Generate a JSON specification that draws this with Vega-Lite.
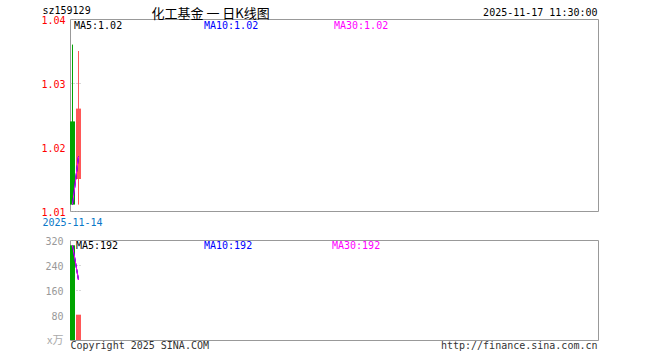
{
  "$schema": "https://vega.github.io/schema/vega-lite/v6.json",
  "background": "white",
  "padding": {"left": 40, "top": 4, "right": 2, "bottom": 2},
  "autosize": {"type": "pad"},
  "config": {
    "font": "DejaVu Sans Mono",
    "view": {"stroke": "#999999", "strokeWidth": 1},
    "axis": {
      "labelFont": "DejaVu Sans Mono",
      "labelFontSize": 10,
      "titleFont": "DejaVu Sans Mono",
      "titleFontSize": 10,
      "titleFontWeight": "normal",
      "ticks": false,
      "tickSize": 0,
      "domain": false,
      "gridColor": "#b0b0b0",
      "gridDash": [1, 2]
    }
  },
  "datasets": {
    "k": [
      {"date": "2025-11-14", "open": 1.024, "close": 1.011, "high": 1.036, "low": 1.011, "vol": 303},
      {"date": "2025-11-17", "open": 1.015, "close": 1.026, "high": 1.035, "low": 1.011, "vol": 81}
    ],
    "ma": [
      {"date": "2025-11-14", "ma": "MA5:1.02", "value": 1.011},
      {"date": "2025-11-17", "ma": "MA5:1.02", "value": 1.0185},
      {"date": "2025-11-14", "ma": "MA10:1.02", "value": 1.011},
      {"date": "2025-11-17", "ma": "MA10:1.02", "value": 1.0185},
      {"date": "2025-11-14", "ma": "MA30:1.02", "value": 1.011},
      {"date": "2025-11-17", "ma": "MA30:1.02", "value": 1.0185}
    ],
    "vma": [
      {"date": "2025-11-14", "ma": "MA5:192", "value": 303},
      {"date": "2025-11-17", "ma": "MA5:192", "value": 192},
      {"date": "2025-11-14", "ma": "MA10:192", "value": 303},
      {"date": "2025-11-17", "ma": "MA10:192", "value": 192},
      {"date": "2025-11-14", "ma": "MA30:192", "value": 303},
      {"date": "2025-11-17", "ma": "MA30:192", "value": 192}
    ]
  },
  "spacing": 29,
  "bounds": "flush",
  "resolve": {"scale": {"color": "independent"}, "legend": {"color": "independent"}},
  "vconcat": [
    {
      "width": 528,
      "height": 192,
      "encoding": {
        "x": {
          "field": "date",
          "type": "ordinal",
          "scale": {"type": "band", "range": [0, 11], "paddingInner": 0.1667, "paddingOuter": 0},
          "axis": {
            "values": ["2025-11-14"],
            "bandPosition": 0,
            "labelAngle": 0,
            "labelColor": "#0a78c8",
            "labelPadding": 6,
            "grid": false,
            "title": "化工基金 一 日K线图",
            "titleFont": "Noto Sans CJK SC",
            "titleFontSize": 13,
            "titleAngle": 0,
            "titleAlign": "left",
            "titleBaseline": "alphabetic",
            "titleX": 81,
            "titleY": -194,
            "titleColor": "#000000"
          }
        }
      },
      "layer": [
        {
          "data": {"name": "k"},
          "mark": {"type": "rule", "strokeWidth": 1},
          "encoding": {
            "y": {
              "field": "low",
              "type": "quantitative",
              "scale": {"domain": [1.01, 1.04], "zero": false, "nice": false},
              "axis": {
                "values": [1.01, 1.02, 1.03, 1.04],
                "format": ".2f",
                "labelColor": "#ff0000",
                "labelPadding": 5,
                "labelOffset": 1,
                "grid": true,
                "title": "sz159129",
                "titleAngle": 0,
                "titleAlign": "left",
                "titleBaseline": "alphabetic",
                "titleX": -28,
                "titleY": -6,
                "titleColor": "#000000"
              }
            },
            "y2": {"field": "high"},
            "color": {"condition": {"test": "datum.close >= datum.open", "value": "#ff5757"}, "value": "#00a400"}
          }
        },
        {
          "data": {"name": "k"},
          "mark": {"type": "bar"},
          "encoding": {
            "y": {"field": "open", "type": "quantitative", "scale": {"domain": [1.01, 1.04], "zero": false, "nice": false}, "axis": null},
            "y2": {"field": "close"},
            "color": {"condition": {"test": "datum.close >= datum.open", "value": "#ff5757"}, "value": "#00a400"}
          }
        },
        {
          "data": {"name": "ma"},
          "mark": {"type": "line", "strokeWidth": 1},
          "encoding": {
            "y": {
              "field": "value",
              "type": "quantitative",
              "scale": {"domain": [1.01, 1.04], "zero": false, "nice": false},
              "axis": {
                "orient": "right",
                "labels": false,
                "grid": false,
                "title": "2025-11-17 11:30:00",
                "titleAngle": 0,
                "titleAlign": "right",
                "titleBaseline": "alphabetic",
                "titleX": -1,
                "titleY": -4,
                "titleColor": "#000000"
              }
            },
            "color": {
              "field": "ma",
              "type": "nominal",
              "scale": {"domain": ["MA5:1.02", "MA10:1.02", "MA30:1.02"], "range": ["#000000", "#0000ff", "#ff00ff"]},
              "legend": {
                "title": null,
                "orient": "none",
                "legendX": -6,
                "legendY": 2,
                "direction": "horizontal",
                "columns": 3,
                "gridAlign": "all",
                "columnPadding": 65,
                "padding": 0,
                "symbolSize": 0,
                "symbolOpacity": 0,
                "symbolStrokeWidth": 0,
                "labelOffset": 0,
                "labelFont": "DejaVu Sans Mono",
                "labelFontSize": 10,
                "encode": {"labels": {"update": {"fill": {"signal": "datum.index == 0 ? '#000000' : datum.index == 1 ? '#0000ff' : '#ff00ff'"}}}}
              }
            }
          }
        }
      ],
      "resolve": {"axis": {"y": "independent"}}
    },
    {
      "width": 528,
      "height": 100,
      "encoding": {
        "x": {
          "field": "date",
          "type": "ordinal",
          "scale": {"type": "band", "range": [0, 11], "paddingInner": 0.1667, "paddingOuter": 0},
          "axis": {
            "labels": false,
            "grid": false,
            "title": "Copyright 2025 SINA.COM",
            "titleAngle": 0,
            "titleAlign": "left",
            "titleBaseline": "middle",
            "titleX": 0,
            "titleY": 5,
            "titleColor": "#333333"
          }
        }
      },
      "layer": [
        {
          "data": {"name": "k"},
          "mark": {"type": "bar"},
          "encoding": {
            "y": {
              "field": "vol",
              "type": "quantitative",
              "scale": {"domain": [0, 320], "nice": false},
              "axis": {
                "values": [80, 160, 240, 320],
                "labelColor": "#999999",
                "labelPadding": 7,
                "labelOffset": 1,
                "grid": true,
                "title": "x万",
                "titleFont": "Noto Sans CJK SC",
                "titleFontSize": 11,
                "titleAngle": 0,
                "titleAlign": "right",
                "titleBaseline": "middle",
                "titleX": -7,
                "titleY": 100,
                "titleColor": "#aaaaaa"
              }
            },
            "color": {"condition": {"test": "datum.close >= datum.open", "value": "#ff5757"}, "value": "#00a400"}
          }
        },
        {
          "data": {"name": "vma"},
          "mark": {"type": "line", "strokeWidth": 1},
          "encoding": {
            "y": {
              "field": "value",
              "type": "quantitative",
              "scale": {"domain": [0, 320], "nice": false},
              "axis": {
                "orient": "right",
                "labels": false,
                "grid": false,
                "title": "http://finance.sina.com.cn",
                "titleAngle": 0,
                "titleAlign": "right",
                "titleBaseline": "middle",
                "titleX": -1,
                "titleY": 105,
                "titleColor": "#333333"
              }
            },
            "color": {
              "field": "ma",
              "type": "nominal",
              "scale": {"domain": ["MA5:192", "MA10:192", "MA30:192"], "range": ["#000000", "#0000ff", "#ff00ff"]},
              "legend": {
                "title": null,
                "orient": "none",
                "legendX": -4,
                "legendY": 1,
                "direction": "horizontal",
                "columns": 3,
                "gridAlign": "all",
                "columnPadding": 69,
                "padding": 0,
                "symbolSize": 0,
                "symbolOpacity": 0,
                "symbolStrokeWidth": 0,
                "labelOffset": 0,
                "labelFont": "DejaVu Sans Mono",
                "labelFontSize": 10,
                "encode": {"labels": {"update": {"fill": {"signal": "datum.index == 0 ? '#000000' : datum.index == 1 ? '#0000ff' : '#ff00ff'"}}}}
              }
            }
          }
        }
      ],
      "resolve": {"axis": {"y": "independent"}}
    }
  ]
}
